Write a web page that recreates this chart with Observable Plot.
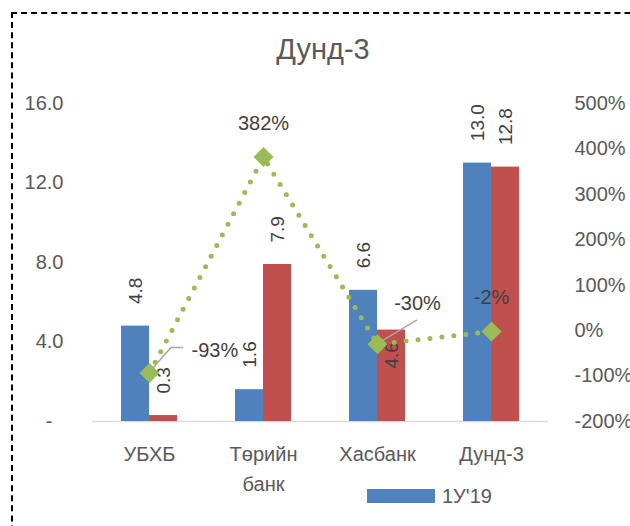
<!DOCTYPE html>
<html>
<head>
<meta charset="utf-8">
<script src="https://cdn.jsdelivr.net/npm/d3@7"></script>
<script src="https://cdn.jsdelivr.net/npm/@observablehq/plot@0.6"></script>
<style>
  html, body { margin: 0; padding: 0; width: 630px; height: 526px; overflow: hidden; background: #fff; }
  body { position: relative; font-family: "Liberation Sans", Arial, sans-serif; }
  #frame { position: absolute; left: 11px; top: 12px; width: 700px; height: 600px; border: 2px dashed #000; box-sizing: border-box; }
  #title { position: absolute; left: 0; width: 646px; top: 32px; text-align: center; font-size: 29px; color: #595959; line-height: 34px; }
  #chart { position: absolute; left: 0; top: 80px; }
  #legend { position: absolute; left: 367px; top: 484px; display: flex; align-items: center; white-space: nowrap; font-size: 20px; color: #595959; height: 24px; }
  .sw { display: inline-block; width: 68px; height: 14px; margin-right: 7px; }
  .item { display: flex; align-items: center; margin-right: 160px; }
</style>
</head>
<body>
<div id="frame"></div>
<div id="title">Дунд-3</div>
<div id="chart"></div>
<div id="legend"></div>
<script>
// ---- data ----
const categories = ["УБХБ", "Төрийн банк", "Хасбанк", "Дунд-3"];
const seriesNames = ["1У'19", "1У'20"];
const values19 = [4.8, 1.6, 6.6, 13.0];
const values20 = [0.3, 7.9, 4.6, 12.8];
const growthPct = [-93, 382, -30, -2];
const leftTicks = [0, 4, 8, 12, 16];
const rightTicks = [-200, -100, 0, 100, 200, 300, 400, 500];

// ---- styling / layout config ----
const colors = {blue: "#4F81BD", red: "#C0504D", green: "#9BBB59"};
const leftDomain = [0, 16];
const rightDomain = [-200, 500];
const toLeft = p => (p - rightDomain[0]) / (rightDomain[1] - rightDomain[0]) * (leftDomain[1] - leftDomain[0]) + leftDomain[0];
const fromLeft = v => (v - leftDomain[0]) / (leftDomain[1] - leftDomain[0]) * (rightDomain[1] - rightDomain[0]) + rightDomain[0];

const rows = categories.map((c, i) => ({category: c, v19: values19[i], v20: values20[i], g: growthPct[i]}));
const barW = 28;
const band = 114;
const half = band / 2;

// label placement tweaks (as in the original Excel chart)
const insideLabel = new Set(["Хасбанк|v20"]);
const pctPlacement = {
  "УБХБ": {dx: 42, dy: -22, anchor: "start", leader: [[22, -25], [34, -25]]},
  "Хасбанк": {dx: 40, dy: -41, anchor: "middle", leader: [[40, -24]]}
};

const labelRows = [];
rows.forEach(r => {
  labelRows.push({category: r.category, key: "v19", v: r.v19, off: -barW / 2});
  labelRows.push({category: r.category, key: "v20", v: r.v20, off: barW / 2});
});
const outsideLabels = labelRows.filter(d => !insideLabel.has(d.category + "|" + d.key));
const insideLabels = labelRows.filter(d => insideLabel.has(d.category + "|" + d.key));

const marks = [
  Plot.ruleY([0], {stroke: "#d9d9d9", strokeWidth: 1.5}),
  Plot.barY(rows, {x: "category", y: "v19", fill: colors.blue, insetLeft: half - barW, insetRight: half}),
  Plot.barY(rows, {x: "category", y: "v20", fill: colors.red, insetLeft: half, insetRight: half - barW}),
  // value labels
  ...outsideLabels.map(d => Plot.text([d], {x: "category", y: "v", text: x => x.v.toFixed(1), rotate: -90, textAnchor: "start", dx: d.off, dy: -22, fontSize: 19, fill: "#404040"})),
  ...insideLabels.map(d => Plot.text([d], {x: "category", y: "v", text: x => x.v.toFixed(1), rotate: -90, textAnchor: "end", dx: d.off, dy: 12, fontSize: 19, fill: "#404040"})),
  // growth line
  Plot.line(rows, {x: "category", y: d => toLeft(d.g), stroke: colors.green, strokeWidth: 5, strokeDasharray: "0 12", strokeLinecap: "round"}),
  Plot.dot(rows, {x: "category", y: d => toLeft(d.g), symbol: "diamond2", r: 9, fill: colors.green, stroke: "none"}),
  // growth labels
  ...rows.map(r => {
    const p = pctPlacement[r.category] || {dx: 0, dy: -34, anchor: "middle"};
    return Plot.text([r], {x: "category", y: d => toLeft(d.g), text: d => d.g + "%", dx: p.dx, dy: p.dy, textAnchor: p.anchor, fontSize: 20, fill: "#404040"});
  }),
  // axes
  Plot.axisY(leftTicks.filter(t => t !== 0), {anchor: "left", label: null, tickSize: 0, tickPadding: 29, tickFormat: d => d.toFixed(1), fontSize: 20, fill: "#595959"}),
  Plot.axisY([0], {anchor: "left", label: null, tickSize: 0, tickPadding: 40, tickFormat: () => "-", fontSize: 20, fill: "#595959"}),
  Plot.axisY(rightTicks.map(toLeft), {anchor: "right", label: null, tickSize: 0, tickPadding: 26, tickFormat: d => Math.round(fromLeft(d)) + "%", fontSize: 20, fill: "#595959"}),
  Plot.axisX({label: null, tickSize: 0, tickPadding: 18, tickFormat: d => d.replace(" ", "\n"), fontSize: 20, lineHeight: 1.5, fill: "#595959"})
];

const chart = Plot.plot({
  width: 630,
  height: 390,
  marginTop: 23,
  marginBottom: 49,
  marginLeft: 92,
  marginRight: 82,
  style: {background: "transparent", overflow: "visible", fontFamily: "Liberation Sans, Arial, sans-serif", color: "#595959"},
  x: {type: "band", domain: categories, padding: 0, label: null},
  y: {domain: leftDomain, nice: false, label: null},
  marks
});
document.getElementById("chart").appendChild(chart);

// leader lines for moved labels, placed through the plot's own scales
const xs = chart.scale("x"), ys = chart.scale("y");
const svg = d3.select(chart);
rows.forEach(r => {
  const p = pctPlacement[r.category];
  if (!p || !p.leader) return;
  const cx = xs.apply(r.category) + xs.bandwidth / 2;
  const cy = ys.apply(toLeft(r.g));
  const pts = [[cx, cy], ...p.leader.map(([a, b]) => [cx + a, cy + b])];
  svg.insert("path", "g[aria-label='dot']")
    .attr("d", d3.line()(pts))
    .attr("fill", "none")
    .attr("stroke", "#a6a6a6")
    .attr("stroke-width", 1.5);
});

// legend (second entry lies beyond the visible area, as in the original)
const legend = document.getElementById("legend");
seriesNames.forEach((name, i) => {
  const item = document.createElement("div");
  item.className = "item";
  const sw = document.createElement("span");
  sw.className = "sw";
  sw.style.background = i === 0 ? colors.blue : colors.red;
  const t = document.createElement("span");
  t.textContent = name;
  item.appendChild(sw);
  item.appendChild(t);
  legend.appendChild(item);
});
</script>
</body>
</html>
